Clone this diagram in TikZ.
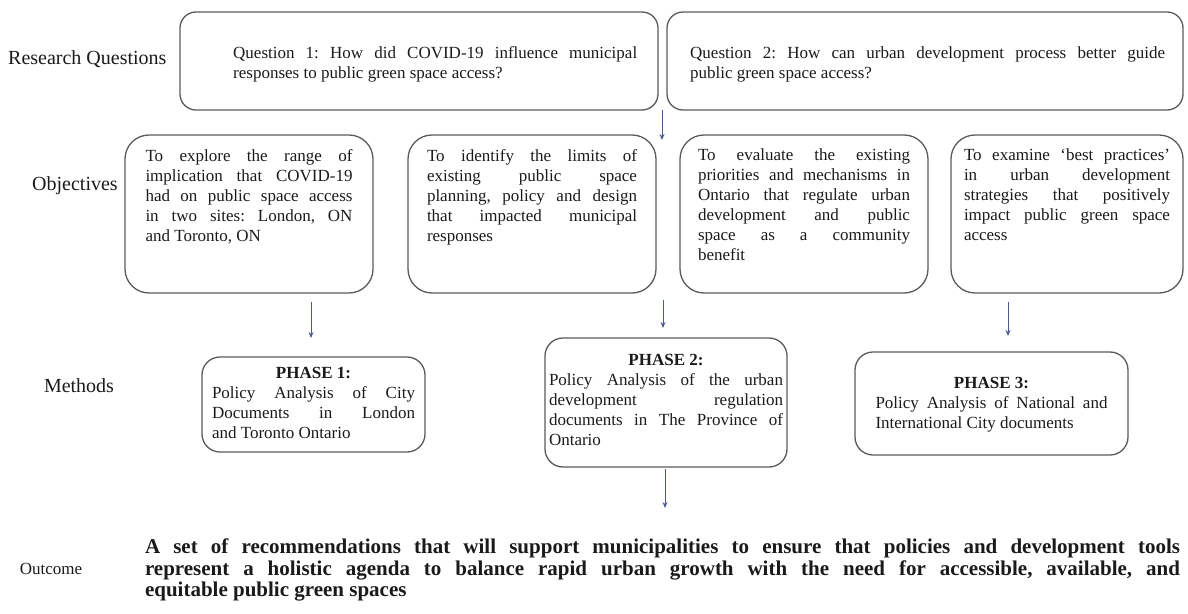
\documentclass[tikz,border=0pt]{standalone}
\usepackage{fontspec}
\setmainfont{Liberation Serif}
\usetikzlibrary{arrows.meta}
\definecolor{boxgray}{HTML}{5A5A5A}
\definecolor{arrowblue}{HTML}{4A5A8C}
\definecolor{txtblack}{HTML}{1A1A1A}
\tikzset{
  rbox/.style={draw=boxgray, line width=1.3pt, rounded corners=#1, inner sep=0pt},
  rbox/.default=18pt,
  boxtext/.style={font=\fontsize{17}{20}\selectfont, align=justify, inner sep=0pt, text=txtblack},
  rowlabel/.style={font=\fontsize{20}{22}\selectfont, inner sep=0pt, text=txtblack},
  arr/.style={draw=arrowblue, line width=1pt, -{Stealth[length=6pt,width=5pt]}},
}
\begin{document}
\frenchspacing
\begin{tikzpicture}[x=1pt,y=-1pt]
\useasboundingbox (0,0) rectangle (1188,613);

% row labels
\node[rowlabel, anchor=west] (lrq) at (8,59) {Research Questions};
\node[rowlabel] (lobj) at (75,186) {Objectives};
\node[rowlabel] (lmet) at (79,386) {Methods};
\node[rowlabel] (lout) at (51,569) {\fontsize{17}{20}\selectfont Outcome};

% research questions
\node[rbox=16pt, minimum width=478pt, minimum height=98pt] (q1) at (419,61) {};
\node[boxtext, text width=404pt, anchor=west] (q1t) at (233,64)
  {Question 1: How did COVID-19 influence municipal\linebreak responses to public green space access?};
\node[rbox=16pt, minimum width=516pt, minimum height=98pt] (q2) at (925,61) {};
\node[boxtext, text width=475pt, anchor=west] (q2t) at (690,64)
  {Question 2: How can urban development process better guide\linebreak public green space access?};

% objectives
\node[rbox=24pt, minimum width=248pt, minimum height=158pt] (o1) at (249,214) {};
\node[boxtext, text width=207pt, anchor=north] (o1t) at (249,149)
  {To explore the range of\linebreak implication that COVID-19\linebreak had on public space access\linebreak in two sites: London, ON\linebreak and Toronto, ON};
\node[rbox=24pt, minimum width=248pt, minimum height=158pt] (o2) at (532,214) {};
\node[boxtext, text width=210pt, anchor=north] (o2t) at (532,149)
  {To identify the limits of\linebreak existing public space\linebreak planning, policy and design\linebreak that impacted municipal\linebreak responses};
\node[rbox=24pt, minimum width=248pt, minimum height=158pt] (o3) at (804,214) {};
\node[boxtext, text width=212pt, anchor=north] (o3t) at (804,149)
  {To evaluate the existing\linebreak priorities and mechanisms in\linebreak Ontario that regulate urban\linebreak development and public\linebreak space as a community\linebreak benefit};
\node[rbox=24pt, minimum width=232pt, minimum height=158pt] (o4) at (1067,214) {};
\node[boxtext, text width=206pt, anchor=north] (o4t) at (1067,149)
  {To examine ‘best practices’\linebreak in urban development\linebreak strategies that positively\linebreak impact public green space\linebreak access};

% methods
\node[rbox=18pt, minimum width=223pt, minimum height=95pt] (p1) at (313.5,404.5) {};
\node[boxtext, text width=203pt] (p1t) at (313.5,403)
  {{\centering\textbf{PHASE 1:}\par}Policy Analysis of City\linebreak Documents in London\linebreak and Toronto Ontario};
\node[rbox=18pt, minimum width=242pt, minimum height=129pt] (p2) at (666,402.5) {};
\node[boxtext, text width=234pt] (p2t) at (666,400)
  {{\centering\textbf{PHASE 2:}\par}Policy Analysis of the urban\linebreak development regulation\linebreak documents in The Province of\linebreak Ontario};
\node[rbox=18pt, minimum width=273pt, minimum height=103pt] (p3) at (991.5,403.5) {};
\node[boxtext, text width=232pt] (p3t) at (991.5,405)
  {{\centering\textbf{PHASE 3:}\par}Policy Analysis of National and\linebreak International City documents};

% outcome
\node[inner sep=0pt, text=txtblack, text width=1035pt, align=justify,
      font=\fontsize{21}{21.5}\selectfont\bfseries] (out) at (662.5,570)
  {A set of recommendations that will support municipalities to ensure that policies and development tools\linebreak represent a holistic agenda to balance rapid urban growth with the need for accessible, available, and\linebreak equitable public green spaces};

% connectors
\coordinate (qgap) at (662,110);
\coordinate (ogap) at (662,140);
\coordinate (o1a) at (311,302);
\coordinate (p1a) at (311,338);
\coordinate (o2a) at (663,300);
\coordinate (p2a) at (663,328);
\coordinate (o4a) at (1008,302);
\coordinate (p3a) at (1008,336);
\coordinate (p2b) at (665,469);
\coordinate (outa) at (665,508);
\draw[arr] (qgap) -- (ogap);
\draw[arr] (o1a) -- (p1a);
\draw[arr] (o2a) -- (p2a);
\draw[arr] (o4a) -- (p3a);
\draw[arr] (p2b) -- (outa);
\end{tikzpicture}
\end{document}
